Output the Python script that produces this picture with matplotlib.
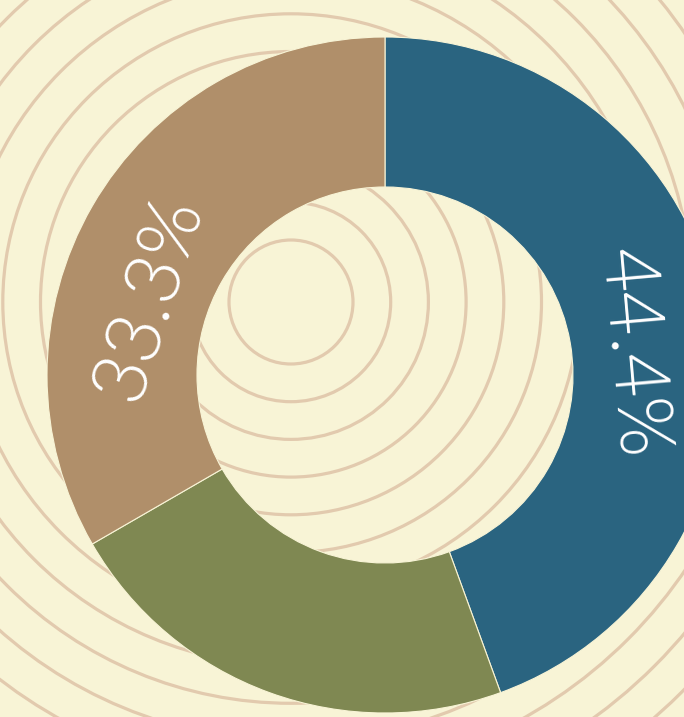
import numpy as np
import matplotlib
matplotlib.use("Agg")
import matplotlib.pyplot as plt
from matplotlib.patches import Circle

# Share of each segment (percent)
categories = ["Blue", "Green", "Tan"]
shares = [44.4, 22.2, 33.3]
colors = ["#2a6480", "#7f8852", "#b08f6a"]
label_text = ["44.4%", "", "33.3%"]

BG = "#f8f4d6"
RING = "#e2caae"

W, H = 684, 717
fig = plt.figure(figsize=(W / 100, H / 100), dpi=100, facecolor=BG)
ax = fig.add_axes([0, 0, 1, 1])
ax.set_facecolor(BG)

# Decorative concentric rings in the background
ring_center = (291, H - 302)
for k in range(16):
    ax.add_patch(Circle(ring_center, 62 + 37.7 * k, fill=False,
                        edgecolor=RING, linewidth=2.3, zorder=1))

# Donut
center = (385, H - 375)
outer_r = 338
inner_r = 188
wedges, _ = ax.pie(shares, colors=colors, startangle=90, counterclock=False,
                   radius=outer_r, center=center, frame=True,
                   wedgeprops=dict(width=outer_r - inner_r, edgecolor=BG,
                                   linewidth=0.8, zorder=2))

# Labels written along the ring
label_angles = {0: 5.0, 2: 162.0}
label_r = 247
for i, ang in label_angles.items():
    t = np.deg2rad(ang)
    x = center[0] + label_r * np.cos(t)
    y = center[1] + label_r * np.sin(t)
    ax.text(x, y, label_text[i], rotation=ang - 90, rotation_mode="anchor",
            ha="center", va="center", color="white", fontsize=55,
            family=["Lato", "DejaVu Sans"], fontweight=300, zorder=3)

ax.set_xlim(0, W)
ax.set_ylim(0, H)
ax.set_aspect("equal")
ax.axis("off")

fig.savefig("out.png", dpi=100, facecolor=BG)
